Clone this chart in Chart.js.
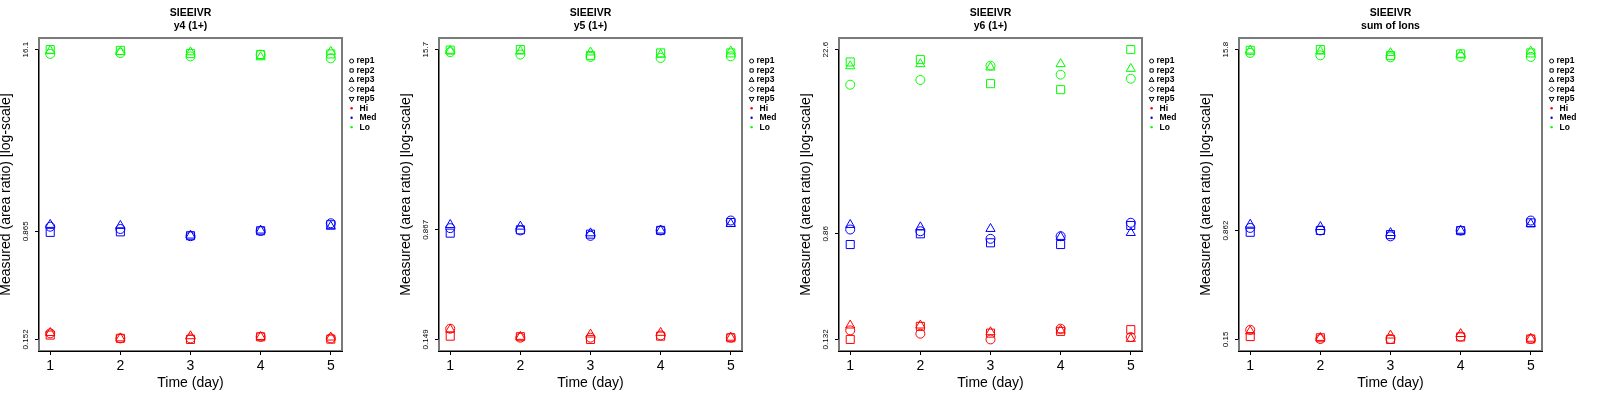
<!DOCTYPE html>
<html>
<head>
<meta charset="utf-8">
<title>SIEEIVR</title>
<script src="https://cdn.jsdelivr.net/npm/chart.js@4.4.1/dist/chart.umd.min.js"></script>
<style>
html,body{margin:0;padding:0;background:#fff;}
#wrap{position:relative;width:1600px;height:400px;overflow:hidden;background:#fff;}
#wrap canvas{position:absolute;top:0;}
</style>
</head>
<body>
<div id="wrap">
<canvas id="p0" width="400" height="400" style="left:0px"></canvas>
<canvas id="p1" width="400" height="400" style="left:400px"></canvas>
<canvas id="p2" width="400" height="400" style="left:800px"></canvas>
<canvas id="p3" width="400" height="400" style="left:1200px"></canvas>
</div>
<script>
// ---------- data ----------
const days = [1, 2, 3, 4, 5];
const reps = ['rep1', 'rep2', 'rep3', 'rep4', 'rep5'];
const groups = ['Hi', 'Med', 'Lo'];
const peptide = 'SIEEIVR';
const panelNames = ['y4 (1+)', 'y5 (1+)', 'y6 (1+)', 'sum of Ions'];
const xLabel = 'Time (day)';
const yLabel = 'Measured (area ratio) [log-scale]';

// y tick labels (min, middle, max) per panel
const y4Ticks = [0.152, 0.865, 16.1];
const y5Ticks = [0.149, 0.867, 15.7];
const y6Ticks = [0.132, 0.86, 22.6];
const sumTicks = [0.15, 0.862, 15.8];

// values: rows = rep1, rep2, rep3 ; columns = day 1..5
const y4Hi = [
  [0.1675, 0.1545, 0.1545, 0.1585, 0.1545],
  [0.163, 0.1547, 0.152, 0.1585, 0.1527],
  [0.169, 0.155, 0.1604, 0.1585, 0.157]
];
const y4Med = [
  [0.932, 0.898, 0.800, 0.870, 0.985],
  [0.851, 0.858, 0.806, 0.873, 0.962],
  [0.962, 0.947, 0.810, 0.878, 0.935]
];
const y4Lo = [
  [15.02, 15.22, 14.44, 14.86, 13.99],
  [16.1, 15.9, 15.09, 14.86, 15.02],
  [15.84, 15.51, 15.46, 14.27, 15.59]
];

const y5Hi = [
  [0.177, 0.1532, 0.1532, 0.159, 0.1532],
  [0.157, 0.1556, 0.149, 0.157, 0.153],
  [0.175, 0.1556, 0.1615, 0.166, 0.1535]
];
const y5Med = [
  [0.891, 0.859, 0.787, 0.859, 1.007],
  [0.822, 0.867, 0.809, 0.859, 0.975],
  [0.940, 0.915, 0.822, 0.859, 0.955]
];
const y5Lo = [
  [15.08, 14.5, 13.96, 13.73, 14.1],
  [15.57, 15.7, 14.26, 14.89, 14.89],
  [15.45, 15.28, 15.03, 14.5, 15.28]
];

const y6Hi = [
  [0.155, 0.1461, 0.132, 0.1597, 0.1376],
  [0.132, 0.1664, 0.1476, 0.1522, 0.1569],
  [0.1694, 0.1694, 0.1504, 0.155, 0.1336]
];
const y6Med = [
  [0.928, 0.900, 0.787, 0.824, 1.046],
  [0.711, 0.86, 0.733, 0.711, 0.997],
  [1.009, 0.968, 0.940, 0.816, 0.875]
];
const y6Lo = [
  [12.12, 13.18, 17.0, 14.49, 13.49],
  [18.15, 18.92, 12.35, 11.1, 22.6],
  [16.86, 17.52, 16.5, 17.52, 16.1]
];

const sumHi = [
  [0.175, 0.151, 0.151, 0.157, 0.151],
  [0.157, 0.154, 0.15, 0.156, 0.151],
  [0.171, 0.154, 0.160, 0.164, 0.152]
];
const sumMed = [
  [0.900, 0.864, 0.786, 0.862, 1.013],
  [0.839, 0.864, 0.808, 0.862, 0.976],
  [0.950, 0.915, 0.831, 0.862, 0.960]
];
const sumLo = [
  [14.98, 14.41, 13.96, 14.05, 14.05],
  [15.62, 15.8, 14.35, 14.74, 14.98],
  [15.6, 15.37, 14.98, 14.58, 15.37]
];

const panels = [
  { name: panelNames[0], ticks: y4Ticks, Hi: y4Hi, Med: y4Med, Lo: y4Lo },
  { name: panelNames[1], ticks: y5Ticks, Hi: y5Hi, Med: y5Med, Lo: y5Lo },
  { name: panelNames[2], ticks: y6Ticks, Hi: y6Hi, Med: y6Med, Lo: y6Lo },
  { name: panelNames[3], ticks: sumTicks, Hi: sumHi, Med: sumMed, Lo: sumLo }
];

// ---------- styles ----------
const FONT = '"Liberation Sans", Arial, Helvetica, sans-serif';
const groupColors = { Hi: '#ff0000', Med: '#0000ff', Lo: '#00ff00' };
const repStyles = ['circle', 'rect', 'triangle', 'rectRot', 'triangle'];
const repRotation = [0, 0, 0, 0, 180];
const repRadius = [4.5, 5.7, 5.3, 5.0, 5.3];
const legendRadius = [2.0, 2.3, 2.8, 2.6, 2.8];

function drawMarker(ctx, style, r, rot, x, y) {
  if (Chart.helpers && Chart.helpers.drawPoint) {
    Chart.helpers.drawPoint(ctx, { pointStyle: style, radius: r, rotation: rot, borderWidth: ctx.lineWidth }, x, y);
    return;
  }
  ctx.beginPath();
  ctx.arc(x, y, r, 0, Math.PI * 2);
  ctx.stroke();
}

const framePlugin = {
  id: 'frame',
  beforeDatasetsDraw(chart) {
    const { ctx, chartArea: a, scales } = chart;
    const tk = chart.options.plugins.frame.ticks;
    ctx.save();
    ctx.strokeStyle = '#7a7a7a';
    ctx.lineWidth = 2;
    ctx.strokeRect(a.left, a.top, a.right - a.left, a.bottom - a.top);
    ctx.strokeStyle = '#000';
    ctx.lineWidth = 1;
    ctx.beginPath();
    const yTop = scales.y.getPixelForValue(tk[tk.length - 1]);
    const yBot = scales.y.getPixelForValue(tk[0]);
    ctx.moveTo(a.left - 0.5, yTop);
    ctx.lineTo(a.left - 0.5, yBot);
    ctx.moveTo(a.left - 1, a.bottom + 0.5);
    ctx.lineTo(a.right + 1, a.bottom + 0.5);
    ctx.stroke();
    ctx.restore();
  },
  afterDraw(chart) {
    const { ctx, chartArea: a } = chart;
    const sx = a.right + 9.6, tx = a.right + 14.5, gx = a.right + 17.5;
    const y0 = a.top + 23, dy = 9.45;
    ctx.save();
    ctx.font = 'bold 8.5px ' + FONT;
    ctx.textBaseline = 'middle';
    ctx.textAlign = 'left';
    ctx.lineWidth = 1;
    let row = 0;
    reps.forEach((rep, i) => {
      const y = y0 + row * dy;
      ctx.strokeStyle = '#000';
      ctx.fillStyle = 'rgba(0,0,0,0)';
      drawMarker(ctx, repStyles[i], legendRadius[i], repRotation[i], sx, y);
      ctx.fillStyle = '#000';
      ctx.fillText(rep, tx, y);
      row++;
    });
    groups.forEach(g => {
      const y = y0 + row * dy;
      ctx.fillStyle = groupColors[g];
      ctx.beginPath();
      ctx.arc(sx, y, 1.2, 0, Math.PI * 2);
      ctx.fill();
      ctx.fillStyle = '#000';
      ctx.fillText(g, gx, y);
      row++;
    });
    ctx.restore();
  }
};

function makeChart(canvasId, p) {
  const datasets = [];
  groups.forEach(g => {
    p[g].forEach((vals, r) => {
      datasets.push({
        label: g + ' ' + reps[r],
        data: days.map((d, i) => ({ x: d, y: vals[i] })),
        showLine: false,
        pointStyle: repStyles[r],
        pointRotation: repRotation[r],
        pointRadius: repRadius[r],
        pointBorderWidth: 1,
        borderWidth: 1,
        borderColor: groupColors[g],
        backgroundColor: 'rgba(0,0,0,0)',
        pointBackgroundColor: 'rgba(0,0,0,0)',
        pointBorderColor: groupColors[g]
      });
    });
  });

  const xr = days[days.length - 1] - days[0];
  const xMin = days[0] - 0.04 * xr, xMax = days[days.length - 1] + 0.04 * xr;
  const lLo = Math.log10(p.ticks[0]), lHi = Math.log10(p.ticks[p.ticks.length - 1]);
  const lr = lHi - lLo;
  const yMin = Math.pow(10, lLo - 0.04 * lr), yMax = Math.pow(10, lHi + 0.04 * lr);

  return new Chart(document.getElementById(canvasId), {
    type: 'scatter',
    data: { datasets },
    plugins: [framePlugin],
    options: {
      responsive: false,
      animation: false,
      devicePixelRatio: 1,
      events: [],
      layout: { padding: { left: 0, right: 58, top: 0, bottom: 0 } },
      plugins: {
        legend: { display: false },
        tooltip: { enabled: false },
        frame: { ticks: p.ticks },
        title: {
          display: true,
          text: [peptide, p.name],
          fullSize: false,
          color: '#000',
          font: { family: FONT, size: 10.5, weight: 'bold', lineHeight: 1.22 },
          padding: { top: 7.1, bottom: 5.3 }
        }
      },
      scales: {
        x: {
          type: 'linear',
          min: xMin,
          max: xMax,
          afterBuildTicks: s => { s.ticks = days.map(v => ({ value: v })); },
          afterFit: s => { s.height = 49; },
          grid: { drawOnChartArea: false, drawTicks: true, tickLength: 4, color: '#000', lineWidth: 1 },
          border: { display: false },
          ticks: { color: '#000', font: { family: FONT, size: 14 }, padding: 3, maxRotation: 0, autoSkip: false, callback: v => String(v) },
          title: { display: true, text: xLabel, color: '#000', font: { family: FONT, size: 14, lineHeight: 1.1 }, padding: { top: 0, bottom: 8.8 } }
        },
        y: {
          type: 'logarithmic',
          min: yMin,
          max: yMax,
          afterBuildTicks: s => { s.ticks = p.ticks.map(v => ({ value: v })); },
          afterFit: s => { s.width = 39; },
          grid: { drawOnChartArea: false, drawTicks: true, tickLength: 4, color: '#000', lineWidth: 1 },
          border: { display: false },
          ticks: { color: '#000', font: { family: FONT, size: 8 }, minRotation: 90, maxRotation: 90, crossAlign: 'center', padding: -1.3, autoSkip: false, callback: v => String(v) },
          title: { display: true, text: yLabel, color: '#000', font: { family: FONT, size: 14, lineHeight: 1.1 }, padding: { top: -2, bottom: 0 } }
        }
      }
    }
  });
}

panels.forEach((p, i) => makeChart('p' + i, p));
</script>
</body>
</html>
